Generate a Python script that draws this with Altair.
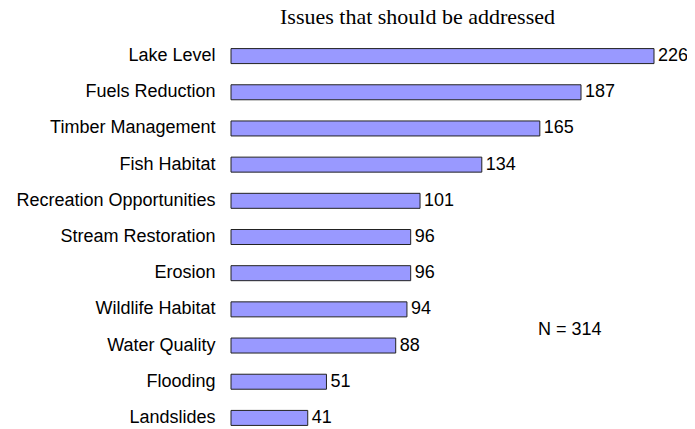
import altair as alt
import pandas as pd

categories = ["Lake Level", "Fuels Reduction", "Timber Management", "Fish Habitat",
              "Recreation Opportunities", "Stream Restoration", "Erosion",
              "Wildlife Habitat", "Water Quality", "Flooding", "Landslides"]
counts = [226, 187, 165, 134, 101, 96, 96, 94, 88, 51, 41]
title_text = "Issues that should be addressed"
note_text = "N = 314"
note_x = 164
note_row = "Wildlife Habitat"

df = pd.DataFrame({"issue": categories, "count": counts})
note_df = pd.DataFrame({"issue": [note_row], "x": [note_x], "label": [note_text]})

xscale = alt.Scale(domain=[0, 226], nice=False, zero=True)
yscale = alt.Scale(domain=categories, paddingInner=0, paddingOuter=0)

base = alt.Chart(df)

bars = base.mark_bar(size=15, color="#9999FF", stroke="#222222", strokeWidth=1).encode(
    x=alt.X("count:Q", scale=xscale, axis=None),
    y=alt.Y("issue:N", scale=yscale, sort=categories,
            axis=alt.Axis(title=None, domain=False, ticks=False, labelPadding=16,
                          labelFont="Liberation Sans", labelFontSize=18,
                          labelColor="black", labelLimit=400)),
)

labels = base.mark_text(align="left", baseline="middle", dx=4, font="Liberation Sans",
                        fontSize=18, color="black").encode(
    x=alt.X("count:Q", scale=xscale),
    y=alt.Y("issue:N", scale=yscale, sort=categories),
    text="count:Q",
)

note = alt.Chart(note_df).mark_text(align="left", baseline="middle", dy=21,
                                    font="Liberation Sans", fontSize=18, color="black").encode(
    x=alt.X("x:Q", scale=xscale),
    y=alt.Y("issue:N", scale=yscale, sort=categories),
    text="label:N",
)

chart = (bars + labels + note).properties(
    width=423,
    height=398,
    title=alt.TitleParams(title_text, font="Liberation Serif", fontSize=22,
                          fontWeight="normal", color="black", anchor="middle",
                          dx=-25, offset=9),
    autosize=alt.AutoSizeParams(type="none"),
    padding={"left": 223, "top": 30, "right": 33, "bottom": 0},
).configure_view(stroke=None)

chart.save("out.html", embed_options={"renderer": "svg", "actions": False})
